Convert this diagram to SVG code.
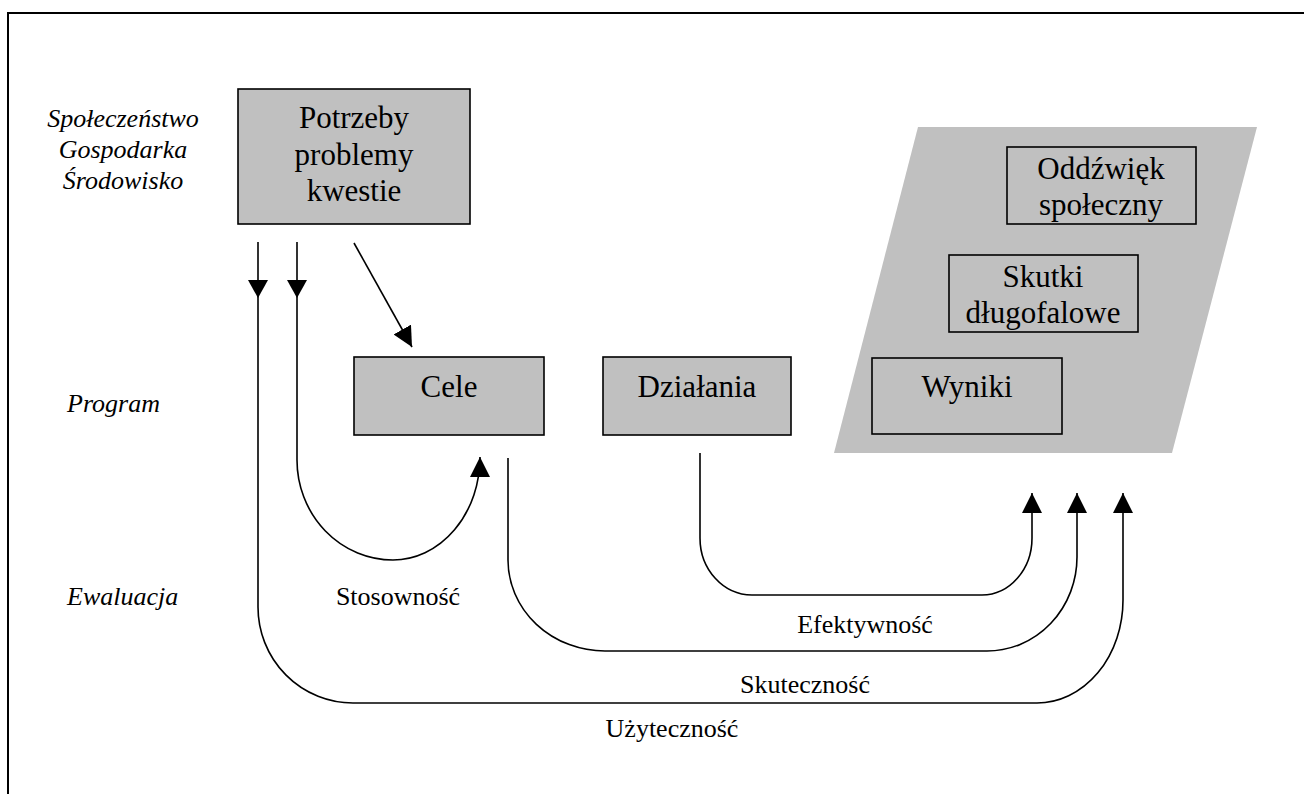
<svg xmlns="http://www.w3.org/2000/svg" width="1304" height="794" viewBox="0 0 1304 794">
<style>
.box{fill:#c0c0c0;stroke:#000;stroke-width:1.6}
.obox{fill:none;stroke:#000;stroke-width:1.6}
.t{font-family:"Liberation Serif","Times New Roman",serif;font-size:31px;fill:#000;text-anchor:middle}
.it{font-family:"Liberation Serif","Times New Roman",serif;font-size:26px;font-style:italic;fill:#000}
.lb{font-family:"Liberation Serif","Times New Roman",serif;font-size:26px;fill:#000;text-anchor:middle}
.c{fill:none;stroke:#000;stroke-width:1.6}
</style>
<defs>
<marker id="ah" viewBox="0 0 20 20" refX="20" refY="10" markerWidth="20" markerHeight="20" markerUnits="userSpaceOnUse" orient="auto">
<path d="M0,0 L20,10 L0,20 z" fill="#000"/>
</marker>
</defs>
<rect width="1304" height="794" fill="#fff"/>
<path d="M8,794 V13 H1304" fill="none" stroke="#000" stroke-width="2"/>

<g id="labels-left">
<text class="it" x="123" y="127" text-anchor="middle">Społeczeństwo</text>
<text class="it" x="123" y="158" text-anchor="middle">Gospodarka</text>
<text class="it" x="123" y="189" text-anchor="middle">Środowisko</text>
<text class="it" x="67" y="412">Program</text>
<text class="it" x="67" y="605">Ewaluacja</text>
</g>

<g id="potrzeby">
<rect class="box" x="238" y="89" width="232" height="135"/>
<text class="t" x="354" y="128">Potrzeby</text>
<text class="t" x="354" y="165">problemy</text>
<text class="t" x="354" y="201">kwestie</text>
</g>

<g id="cele">
<rect class="box" x="354" y="357" width="190" height="78"/>
<text class="t" x="449" y="397">Cele</text>
</g>

<g id="dzialania">
<rect class="box" x="603" y="357" width="188" height="78"/>
<text class="t" x="697" y="397">Działania</text>
</g>

<g id="rezultaty">
<polygon points="918,127 1257,127 1172,453 834,453" fill="#c0c0c0"/>
</g>

<g id="oddzwiek">
<rect class="obox" x="1007" y="147" width="189" height="77"/>
<text class="t" x="1101" y="179">Oddźwięk</text>
<text class="t" x="1101" y="215">społeczny</text>
</g>

<g id="skutki">
<rect class="obox" x="949" y="255" width="189" height="77"/>
<text class="t" x="1043" y="287">Skutki</text>
<text class="t" x="1043" y="323">długofalowe</text>
</g>

<g id="wyniki">
<rect class="obox" x="872" y="358" width="190" height="76"/>
<text class="t" x="967" y="397">Wyniki</text>
</g>

<g id="connectors">
<path class="c" d="M258,242 V607 A95 96 0 0 0 353 703 H1037 A86 103 0 0 0 1123 600 V493" marker-end="url(#ah)"/>
<path class="c" d="M508,458 V560 A97 91 0 0 0 605 651 H987 A90 94 0 0 0 1077 557 V493" marker-end="url(#ah)"/>
<path class="c" d="M700,453 V538 A52 57 0 0 0 752 595 H982 A50 57 0 0 0 1032 538 V493" marker-end="url(#ah)"/>
<path class="c" d="M297,242 V460 A96 100 0 0 0 393 560 A87 103 0 0 0 480 457" marker-end="url(#ah)"/>
<path class="c" d="M354,243 L412,347" marker-end="url(#ah)"/>
<polygon points="248,280 268,280 258,298" fill="#000"/>
<polygon points="287,280 307,280 297,298" fill="#000"/>
</g>

<g id="connector-labels">
<text class="lb" x="398" y="605">Stosowność</text>
<text class="lb" x="865" y="633">Efektywność</text>
<text class="lb" x="805" y="693">Skuteczność</text>
<text class="lb" x="672" y="737">Użyteczność</text>
</g>
</svg>
